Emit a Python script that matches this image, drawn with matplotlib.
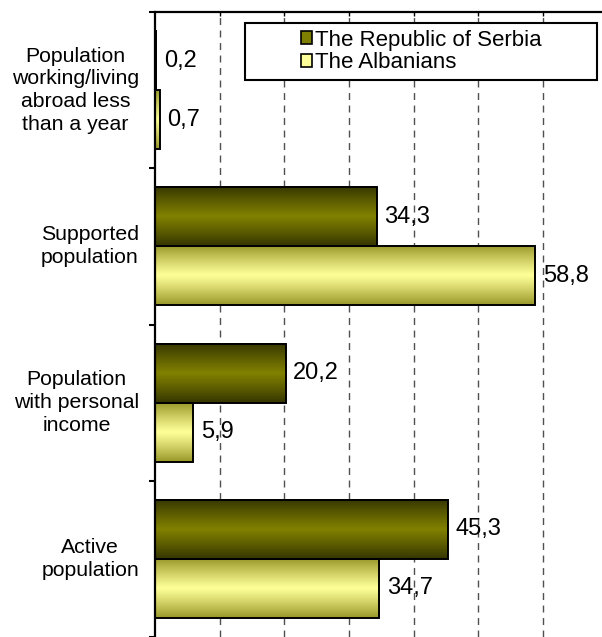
import matplotlib
matplotlib.use("Agg")
import matplotlib.pyplot as plt
import numpy as np
from matplotlib.patches import Patch, Rectangle
from matplotlib.colors import to_rgb

plt.rcParams['font.family'] = ['Liberation Sans', 'DejaVu Sans']

# data (top to bottom as in the chart)
categories = ["Population\nworking/living\nabroad less\nthan a year",
              "Supported\npopulation",
              "Population\nwith personal\nincome",
              "Active\npopulation"]
serbia = [0.2, 34.3, 20.2, 45.3]
albanians = [0.7, 58.8, 5.9, 34.7]
series_names = ["The Republic of Serbia", "The Albanians"]

# gradient colours: (edge, centre)
dark_grad = ("#363600", "#808000")
light_grad = ("#99992a", "#ffff99")


def gradient(edge, centre, n=64):
    t = np.abs(np.linspace(-1, 1, n)) ** 1.1
    e = np.array(to_rgb(edge))
    c = np.array(to_rgb(centre))
    cols = c[None, :] * (1 - t[:, None]) + e[None, :] * t[:, None]
    return cols[:, None, :]


fig = plt.figure(figsize=(6.02, 6.37), dpi=100)
ax = fig.add_axes([155 / 602, 0, 1 - 155 / 602, 1 - 12 / 637])

h = 0.378
y = np.arange(len(categories)) + 0.5
for vals, grad, off in [(serbia, dark_grad, -h), (albanians, light_grad, 0)]:
    img = gradient(*grad)
    for yi, v in zip(y, vals):
        ax.imshow(img, extent=(0, v, yi + off + h, yi + off), aspect='auto',
                  interpolation='bilinear', zorder=2)
    ax.barh(y + off, vals, height=h, align='edge', fill=False,
            edgecolor='black', linewidth=1.4, zorder=3)
    for yi, v in zip(y, vals):
        ax.annotate(f"{v:.1f}".replace('.', ','), (v, yi + off + h / 2),
                    xytext=(5.5, 0), textcoords='offset points',
                    va='center', ha='left', fontsize=17, zorder=4)

for yi, lab in zip(y, categories):
    ax.annotate(lab, (0, yi), xycoords=('axes fraction', 'data'),
                xytext=(-11.5, 0), textcoords='offset points',
                ha='right', va='center', multialignment='center',
                fontsize=15.3, linespacing=1.25)

ax.set_xlim(0, (602 - 155) / 6.467)
ax.set_ylim(4, 0)

ax.xaxis.set_ticks_position('top')
ax.set_xticks(range(10, 70, 10))
ax.tick_params(axis='x', direction='in', length=3, width=1, labeltop=False,
               labelbottom=False)
ax.set_yticks(range(5))
ax.set_yticklabels([])
ax.tick_params(axis='y', direction='out', length=4, width=1.5)
ax.grid(axis='x', color='#505050', linestyle=(0, (5, 4)), linewidth=1)
ax.set_axisbelow(True)

for s in ['right', 'bottom']:
    ax.spines[s].set_visible(False)
for s in ['top', 'left']:
    ax.spines[s].set_linewidth(1.6)

# legend box
box = Rectangle((245 / 602, 1 - 80 / 637), 352 / 602, 57 / 637,
                transform=fig.transFigure, facecolor='white',
                edgecolor='black', linewidth=1.5, zorder=5)
fig.patches.append(box)
handles = [Patch(facecolor=dark_grad[1], edgecolor='black', linewidth=1.2),
           Patch(facecolor=light_grad[1], edgecolor='black', linewidth=1.2)]
leg = fig.legend(handles, series_names, loc='center',
                 bbox_to_anchor=(421 / 602, 1 - 51.5 / 637),
                 frameon=False, fontsize=16, handlelength=0.5,
                 handleheight=0.5, handletextpad=0.12, labelspacing=0.08,
                 borderpad=0)
leg.set_zorder(6)

fig.savefig("out.png", dpi=100)
